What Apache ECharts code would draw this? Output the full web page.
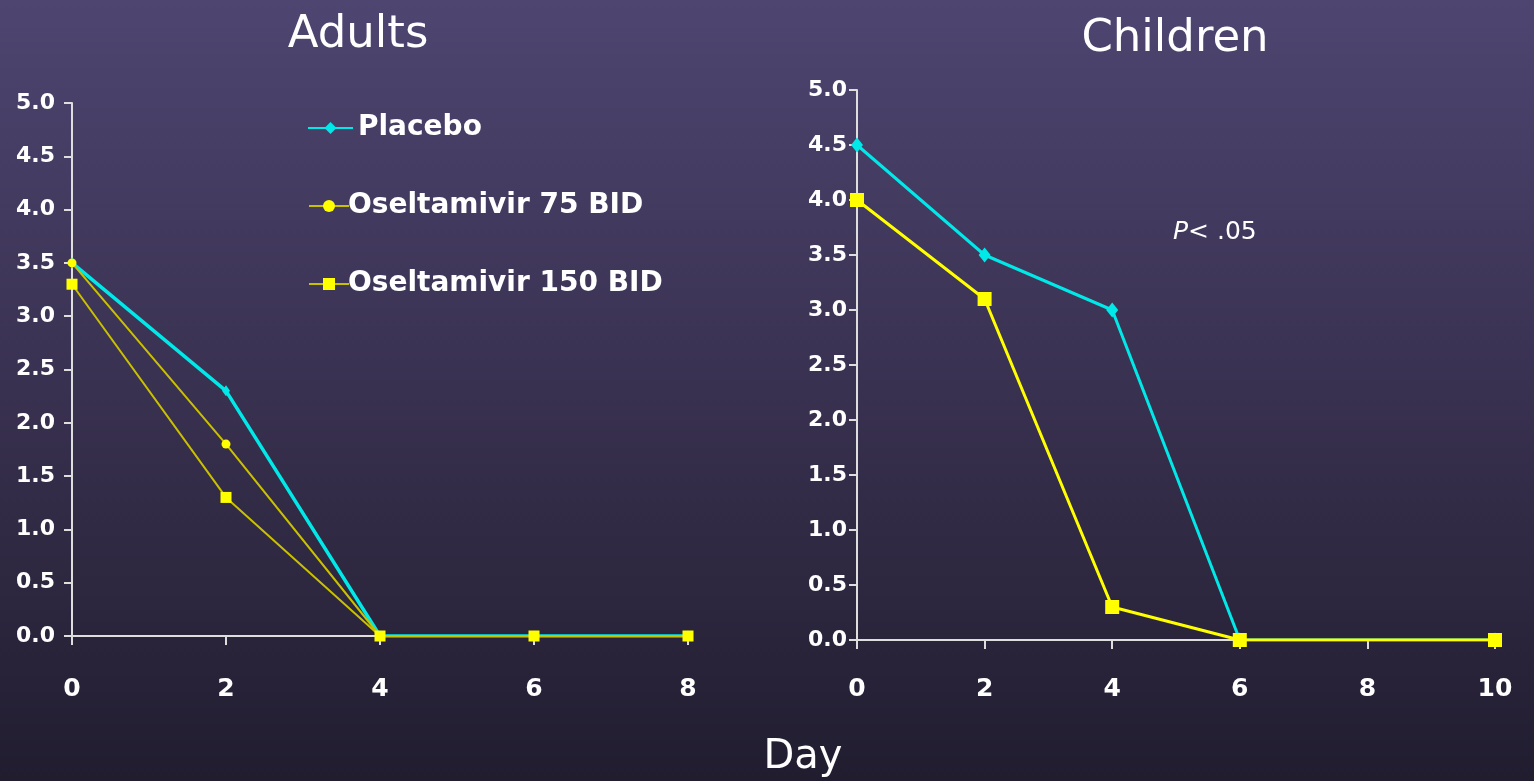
<!DOCTYPE html>
<html>
<head>
<meta charset="utf-8">
<style>
  html, body { margin: 0; padding: 0; width: 1534px; height: 781px; overflow: hidden; background: #2e2842; }
  #chart { width: 1534px; height: 781px; }
</style>
<script src="https://cdn.jsdelivr.net/npm/echarts@6/dist/echarts.min.js"></script>
</head>
<body>
<div id="chart"></div>
<script>
// Days of follow-up for each panel
const adultDays = [0, 2, 4, 6, 8];
const childDays = [0, 2, 4, 6, 10];

// Adults: median symptom score by day
const adultPlacebo = [3.5, 2.3, 0, 0, 0];
const adultOsel75 = [3.5, 1.8, 0, 0, 0];
const adultOsel150 = [3.3, 1.3, 0, 0, 0];

// Children: median symptom score by day
const childPlacebo = [4.5, 3.5, 3.0, 0, 0];
const childOsel = [4.0, 3.1, 0.3, 0, 0];

const seriesNames = ['Placebo', 'Oseltamivir 75 BID', 'Oseltamivir 150 BID'];
const panelTitles = ['Adults', 'Children'];
const xAxisTitle = 'Day';
const pValueText = '{i|P}{n|< .05}';

const FONT = '"DejaVu Sans", Verdana, sans-serif';
const CYAN = '#00e8e8';
const OLIVE = '#c9c000';
const YELLOW = '#ffff00';
const AXIS = '#dedede';

const pairs = (xs, ys) => xs.map((x, i) => [x, ys[i]]);

function yAxis(gridIndex, margin) {
  return {
    type: 'value', gridIndex, min: 0, max: 5, interval: 0.5,
    axisLine: { show: true, lineStyle: { color: AXIS, width: 2 } },
    axisTick: { show: true, length: 8, lineStyle: { color: AXIS, width: 2 } },
    splitLine: { show: false },
    axisLabel: {
      color: '#ffffff', fontFamily: FONT, fontWeight: 'bold', fontSize: 22, margin,
      formatter: v => v.toFixed(1)
    }
  };
}
function xAxis(gridIndex, max, margin) {
  return {
    type: 'value', gridIndex, min: 0, max, interval: 2,
    axisLine: { show: true, onZero: false, lineStyle: { color: AXIS, width: 2 } },
    axisTick: { show: true, length: 9, lineStyle: { color: AXIS, width: 2 } },
    splitLine: { show: false },
    axisLabel: { color: '#ffffff', fontFamily: FONT, fontWeight: 'bold', fontSize: 25, margin }
  };
}

// One legend block per entry so each row can sit where it belongs
function legendItem(name, left, top, itemWidth, textPad) {
  return {
    data: [name], left, top, padding: 0,
    itemWidth, itemHeight: 15, selectedMode: false,
    textStyle: { color: '#ffffff', fontFamily: FONT, fontWeight: 'bold', fontSize: 28, lineHeight: 28, padding: [0, 0, 0, textPad] }
  };
}

function label(text, x, y, size) {
  return {
    type: 'text', x, y,
    style: { text, fill: '#ffffff', font: size + 'px ' + FONT, align: 'center', verticalAlign: 'middle' }
  };
}

const chart = echarts.init(document.getElementById('chart'), null, { renderer: 'canvas' });

chart.setOption({
  animation: false,
  backgroundColor: {
    type: 'linear', x: 0, y: 0, x2: 0, y2: 1,
    colorStops: [
      { offset: 0, color: '#4e4571' },
      { offset: 0.5, color: '#393150' },
      { offset: 1, color: '#211d2f' }
    ]
  },
  legend: [
    legendItem(seriesNames[0], 307, 114, 45, 0),
    legendItem(seriesNames[1], 308, 192, 40, -6),
    legendItem(seriesNames[2], 308, 270, 40, -6)
  ],
  grid: [
    { left: 72, top: 103, width: 616, height: 533 },
    { left: 857, top: 90, width: 638, height: 550 }
  ],
  xAxis: [xAxis(0, 8, 41), xAxis(1, 10, 37)],
  yAxis: [yAxis(0, 17), yAxis(1, 10)],
  graphic: [
    label(panelTitles[0], 358, 35, 45),
    label(panelTitles[1], 1175, 39, 45),
    label(xAxisTitle, 803, 758, 40),
    {
      type: 'text', x: 1173, y: 232,
      style: {
        text: pValueText, fill: '#ffffff', verticalAlign: 'middle',
        rich: {
          i: { fontStyle: 'italic', fontSize: 25, fontFamily: FONT, fill: '#ffffff' },
          n: { fontSize: 25, fontFamily: FONT, fill: '#ffffff' }
        }
      }
    }
  ],
  series: [
    {
      name: seriesNames[0], type: 'line', xAxisIndex: 0, yAxisIndex: 0,
      data: pairs(adultDays, adultPlacebo),
      lineStyle: { color: CYAN, width: 3.5 }, itemStyle: { color: CYAN },
      symbol: 'diamond', symbolSize: [8, 11], z: 2
    },
    {
      name: seriesNames[1], type: 'line', xAxisIndex: 0, yAxisIndex: 0,
      data: pairs(adultDays, adultOsel75),
      lineStyle: { color: OLIVE, width: 2 }, itemStyle: { color: YELLOW },
      symbol: 'circle', symbolSize: 9, z: 3
    },
    {
      name: seriesNames[2], type: 'line', xAxisIndex: 0, yAxisIndex: 0,
      data: pairs(adultDays, adultOsel150),
      lineStyle: { color: OLIVE, width: 2 }, itemStyle: { color: YELLOW },
      symbol: 'rect', symbolSize: 11, z: 4
    },
    {
      name: 'Placebo (children)', type: 'line', xAxisIndex: 1, yAxisIndex: 1,
      data: pairs(childDays, childPlacebo),
      lineStyle: { color: CYAN, width: 3 }, itemStyle: { color: CYAN },
      symbol: 'diamond', symbolSize: [12, 15], z: 2
    },
    {
      name: 'Oseltamivir (children)', type: 'line', xAxisIndex: 1, yAxisIndex: 1,
      data: pairs(childDays, childOsel),
      lineStyle: { color: YELLOW, width: 3 }, itemStyle: { color: YELLOW },
      symbol: 'rect', symbolSize: 14, z: 3
    }
  ]
});
</script>
</body>
</html>
